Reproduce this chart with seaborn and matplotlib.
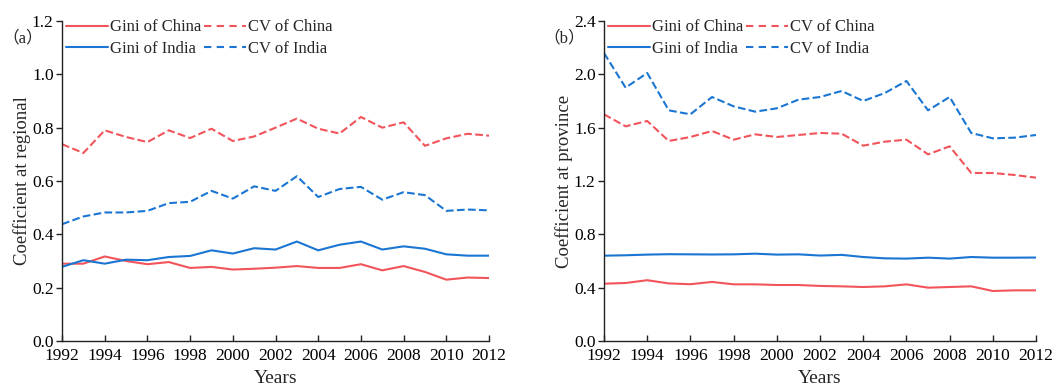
import numpy as np
import pandas as pd
import matplotlib
matplotlib.use("Agg")
import matplotlib.pyplot as plt
import seaborn as sns
from matplotlib.lines import Line2D

years = list(range(1992, 2013))

# Regional level
gini_china_reg = [0.290, 0.290, 0.317, 0.300, 0.288, 0.296, 0.274, 0.278, 0.268, 0.271, 0.275,
                  0.281, 0.274, 0.274, 0.288, 0.265, 0.281, 0.259, 0.230, 0.238, 0.236]
cv_china_reg = [0.738, 0.705, 0.790, 0.765, 0.746, 0.790, 0.761, 0.796, 0.750, 0.767, 0.800,
                0.834, 0.796, 0.778, 0.840, 0.800, 0.820, 0.732, 0.760, 0.777, 0.770]
gini_india_reg = [0.278, 0.303, 0.290, 0.305, 0.303, 0.315, 0.319, 0.340, 0.328, 0.348, 0.343,
                  0.373, 0.340, 0.361, 0.373, 0.343, 0.355, 0.346, 0.325, 0.320, 0.320]
cv_india_reg = [0.438, 0.467, 0.482, 0.482, 0.488, 0.517, 0.522, 0.563, 0.534, 0.580, 0.563,
                0.618, 0.540, 0.570, 0.578, 0.530, 0.558, 0.547, 0.488, 0.493, 0.490]

# Provincial level
gini_china_prov = [0.430, 0.435, 0.456, 0.432, 0.426, 0.443, 0.425, 0.425, 0.420, 0.420, 0.413,
                   0.410, 0.405, 0.410, 0.425, 0.400, 0.405, 0.410, 0.375, 0.380, 0.380]
cv_china_prov = [1.700, 1.610, 1.650, 1.500, 1.530, 1.575, 1.510, 1.550, 1.530, 1.545, 1.560,
                 1.555, 1.465, 1.495, 1.510, 1.400, 1.460, 1.260, 1.260, 1.245, 1.225]
gini_india_prov = [0.640, 0.643, 0.648, 0.651, 0.650, 0.649, 0.650, 0.655, 0.648, 0.650, 0.641,
                   0.646, 0.630, 0.620, 0.618, 0.625, 0.618, 0.630, 0.625, 0.625, 0.626]
cv_india_prov = [2.160, 1.900, 2.010, 1.730, 1.700, 1.830, 1.760, 1.720, 1.745, 1.810, 1.830,
                 1.875, 1.800, 1.860, 1.950, 1.730, 1.830, 1.560, 1.520, 1.525, 1.545]

series_names = ["Gini of China", "Gini of India", "CV of China", "CV of India"]
panel_labels = ["（a）", "（b）"]
y_labels = ["Coefficient at regional", "Coefficient at province"]
x_label = "Years"

RED = "#f2545b"
BLUE = "#1a76d2"
LW = 1.5
DASH = (3.5, 2.6)

sns.set_theme(style="ticks")
plt.rcParams["font.family"] = ["Liberation Serif", "Noto Sans CJK SC", "DejaVu Sans"]
plt.rcParams["axes.linewidth"] = 1.0
plt.rcParams["axes.edgecolor"] = "#222222"

fig = plt.figure(figsize=(10.53, 3.88), dpi=100)
ax_a = fig.add_axes([0.0589, 0.1211, 0.4055, 0.8248])
ax_b = fig.add_axes([0.5736, 0.1211, 0.4103, 0.8248])

panels = [
    (ax_a, [gini_china_reg, gini_india_reg, cv_china_reg, cv_india_reg], 1.2, 0.2),
    (ax_b, [gini_china_prov, gini_india_prov, cv_china_prov, cv_india_prov], 2.4, 0.4),
]
styles = [(RED, "-"), (BLUE, "-"), (RED, "--"), (BLUE, "--")]

for i, (ax, data, ymax, ystep) in enumerate(panels):
    for name, vals, (col, ls) in zip(series_names, data, styles):
        df = pd.DataFrame({"year": years, "value": vals})
        kw = dict(dashes=DASH) if ls == "--" else {}
        sns.lineplot(data=df, x="year", y="value", ax=ax, color=col,
                     linewidth=LW, linestyle=ls, **kw)
    ax.set_xlim(1992, 2012)
    ax.set_ylim(0, ymax)
    ax.set_xticks(range(1992, 2013, 2))
    ax.set_yticks(np.arange(0, ymax + 1e-9, ystep))
    ax.yaxis.set_major_formatter(matplotlib.ticker.FormatStrFormatter("%.1f"))
    ax.tick_params(axis="x", direction="in", length=4, width=1.0, labelsize=12.5, pad=5,
                   colors="#222222", labelcolor="black")
    ax.tick_params(axis="y", direction="out", length=4, width=1.0, labelsize=12.5, pad=2,
                   colors="#222222", labelcolor="black")
    for side in ("top", "right"):
        ax.spines[side].set_visible(False)
    ax.set_xlabel(x_label, fontsize=14, labelpad=4)
    ax.set_ylabel(y_labels[i], fontsize=13.5, labelpad=1)

    handles = [Line2D([], [], color=c, linewidth=LW, linestyle=ls,
                      **({"dashes": DASH} if ls == "--" else {}))
               for c, ls in styles]
    ax.legend(handles, series_names, ncol=2, loc="upper left", frameon=False,
              fontsize=12, handlelength=2.5, handletextpad=0.15, columnspacing=0.15,
              labelspacing=0.35, borderaxespad=0.0, borderpad=0.0,
              bbox_to_anchor=(0.01, 1.005))
    ax.text(-0.14, 0.945, panel_labels[i], transform=ax.transAxes, fontsize=12,
            ha="left", va="center")

fig.savefig("out.png", dpi=100)
